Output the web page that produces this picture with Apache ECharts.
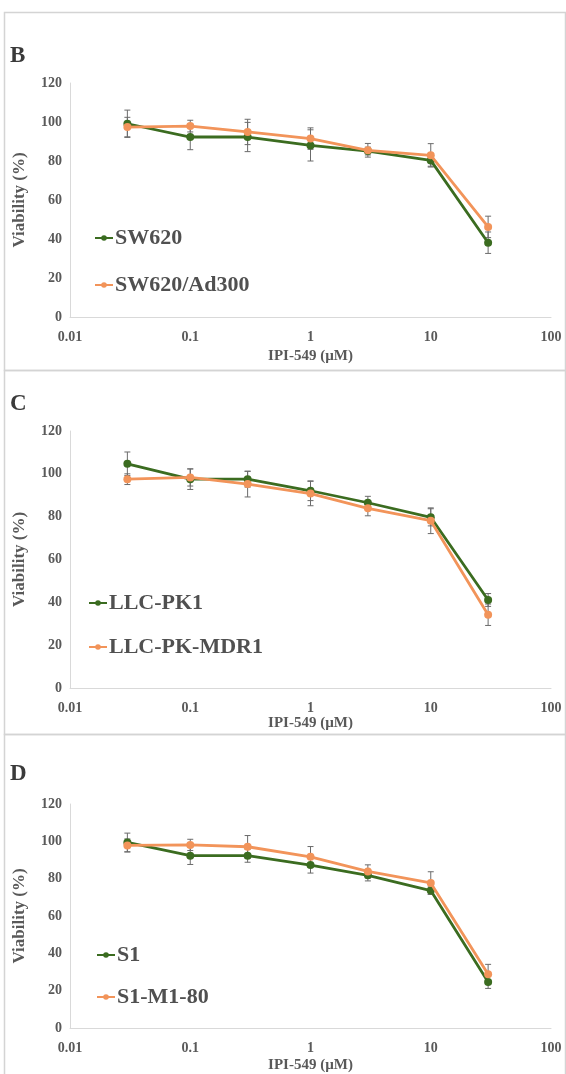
<!DOCTYPE html>
<html>
<head>
<meta charset="utf-8">
<script src="https://cdn.jsdelivr.net/npm/echarts@6/dist/echarts.min.js"></script>
<style>
html,body{margin:0;padding:0;background:#fff;}
#chart{width:566px;height:1074px;}
</style>
</head>
<body>
<div id="chart"></div>
<script>
// ---- data ----
const concentrations = [0.03, 0.1, 0.3, 1, 3, 10, 30];
const xTickLabels = ['0.01', '0.1', '1', '10', '100'];
const panelLetters = ['B', 'C', 'D'];
const xTitle = 'IPI-549 (µM)';
const yTitle = 'Viability (%)';

// Panel B
const namesB = ['SW620', 'SW620/Ad300'];
const sw620 = [99.1, 92.3, 92.3, 88.0, 85.1, 80.3, 38.1];
const sw620Err = [7, 6.5, 7.5, 8, 2, 3, 5.5];
const sw620Ad300 = [97.4, 97.9, 94.9, 91.5, 85.5, 82.9, 46.2];
const sw620Ad300Err = [5, 3, 6.5, 5.5, 3.5, 6, 5.5];

// Panel C
const namesC = ['LLC-PK1', 'LLC-PK-MDR1'];
const llcPk1 = [104.7, 97.5, 97.5, 92.1, 86.5, 79.7, 41.1];
const llcPk1Err = [5.5, 4.8, 3.7, 4.6, 3, 4, 3];
const llcPkMdr1 = [97.5, 98.3, 95.2, 90.8, 83.9, 78.1, 34.2];
const llcPkMdr1Err = [2.5, 4, 6, 5.7, 3.5, 6, 5];

// Panel D
const namesD = ['S1', 'S1-M1-80'];
const s1 = [99.4, 92.3, 92.3, 87.3, 81.8, 73.6, 24.7];
const s1Err = [5, 4.7, 3.5, 4.3, 3, 2, 3.5];
const s1M180 = [97.8, 98.1, 97.1, 91.7, 83.9, 77.7, 28.8];
const s1M180Err = [3.5, 3, 6, 5.5, 3.5, 6, 5.3];

// ---- styling / layout ----
const FONT = '"Liberation Serif", "Times New Roman", serif';
const GREEN = '#3b6c20';
const ORANGE = '#f2945a';
const TXT = '#595959';

const panels = [
  {letter: panelLetters[0], names: namesB, a: sw620, aErr: sw620Err, b: sw620Ad300, bErr: sw620Ad300Err,
   top: 83, height: 234, letterTop: 45, legendTop: 227, legendLeft: 94, legendGap: 25, nameGap: 32, borderTop: 10, borderBottom: 368},
  {letter: panelLetters[1], names: namesC, a: llcPk1, aErr: llcPk1Err, b: llcPkMdr1, bErr: llcPkMdr1Err,
   top: 431, height: 257, letterTop: 393, legendTop: 592, legendLeft: 88, legendGap: 22, nameGap: 26, borderTop: 368, borderBottom: 732},
  {letter: panelLetters[2], names: namesD, a: s1, aErr: s1Err, b: s1M180, bErr: s1M180Err,
   top: 804, height: 225, letterTop: 763, legendTop: 944, legendLeft: 96, legendGap: 20, nameGap: 30, borderTop: 732, borderBottom: 1080}
];

function errData(vals, errs) {
  return concentrations.map((c, i) => [c, vals[i], errs[i]]);
}
function lineData(vals) {
  return concentrations.map((c, i) => [c, vals[i]]);
}
function renderErr(params, api) {
  const x = api.value(0), v = api.value(1), e = api.value(2);
  const hi = api.coord([x, v + e]);
  const lo = api.coord([x, v - e]);
  const cap = 3;
  const st = {stroke: '#6b6b6b', lineWidth: 1};
  return {
    type: 'group',
    children: [
      {type: 'line', shape: {x1: hi[0], y1: hi[1], x2: lo[0], y2: lo[1]}, style: st},
      {type: 'line', shape: {x1: hi[0] - cap, y1: hi[1], x2: hi[0] + cap, y2: hi[1]}, style: st},
      {type: 'line', shape: {x1: lo[0] - cap, y1: lo[1], x2: lo[0] + cap, y2: lo[1]}, style: st}
    ]
  };
}

const grid = [], xAxis = [], yAxis = [], series = [], legend = [], title = [], graphic = [];

panels.forEach((p, gi) => {
  grid.push({left: 70, width: 481, top: p.top, height: p.height});
  xAxis.push({
    type: 'log', logBase: 10, min: 0.01, max: 100, gridIndex: gi,
    name: xTitle, nameLocation: 'middle', nameGap: p.nameGap,
    nameTextStyle: {fontFamily: FONT, fontWeight: 'bold', fontSize: 15, color: TXT},
    axisLine: {lineStyle: {color: '#d9d9d9', width: 1}},
    axisTick: {show: false}, splitLine: {show: false}, minorTick: {show: false},
    axisLabel: {
      fontFamily: FONT, fontWeight: 'bold', fontSize: 14, color: TXT, margin: 13,
      formatter: v => xTickLabels[Math.round(Math.log10(v)) + 2]
    }
  });
  yAxis.push({
    type: 'value', min: 0, max: 120, interval: 20, gridIndex: gi,
    name: yTitle, nameLocation: 'middle', nameGap: 42,
    nameTextStyle: {fontFamily: FONT, fontWeight: 'bold', fontSize: 17, color: TXT},
    axisLine: {show: true, lineStyle: {color: '#d9d9d9', width: 1}},
    axisTick: {show: false}, splitLine: {show: false},
    axisLabel: {fontFamily: FONT, fontWeight: 'bold', fontSize: 14, color: TXT, margin: 8}
  });
  const colors = [GREEN, ORANGE];
  const vals = [p.a, p.b];
  const errs = [p.aErr, p.bErr];
  for (let k = 0; k < 2; k++) {
    series.push({
      type: 'custom', xAxisIndex: gi, yAxisIndex: gi,
      data: errData(vals[k], errs[k]), renderItem: renderErr,
      encode: {x: 0, y: 1}, z: 1, silent: true
    });
  }
  for (let k = 0; k < 2; k++) {
    series.push({
      type: 'line', name: p.names[k], xAxisIndex: gi, yAxisIndex: gi,
      data: lineData(vals[k]), symbol: 'circle', symbolSize: 8,
      lineStyle: {color: colors[k], width: 2.8},
      itemStyle: {color: colors[k]}, z: 3 + k, animation: false
    });
  }
  legend.push({
    data: p.names, orient: 'vertical', left: p.legendLeft, top: p.legendTop,
    itemGap: p.legendGap, itemWidth: 18, itemHeight: 7,
    textStyle: {fontFamily: FONT, fontWeight: 'bold', fontSize: 22, color: '#505050', lineHeight: 22, padding: [0, 0, 0, -3]},
    padding: 0, selectedMode: false
  });
  title.push({
    text: p.letter, left: 10, top: p.letterTop, padding: 0,
    textStyle: {fontFamily: FONT, fontWeight: 'bold', fontSize: 23, color: '#3a3a3a'}
  });
  graphic.push({
    type: 'rect', left: 2, top: p.borderTop,
    shape: {width: 561, height: p.borderBottom - p.borderTop},
    style: {fill: 'none', stroke: '#d4d4d4', lineWidth: 1.5}, silent: true
  });
});

const chart = echarts.init(document.getElementById('chart'), null, {renderer: 'canvas'});
chart.setOption({
  backgroundColor: '#ffffff',
  animation: false,
  title, grid, xAxis, yAxis, legend, series, graphic
});
</script>
</body>
</html>
